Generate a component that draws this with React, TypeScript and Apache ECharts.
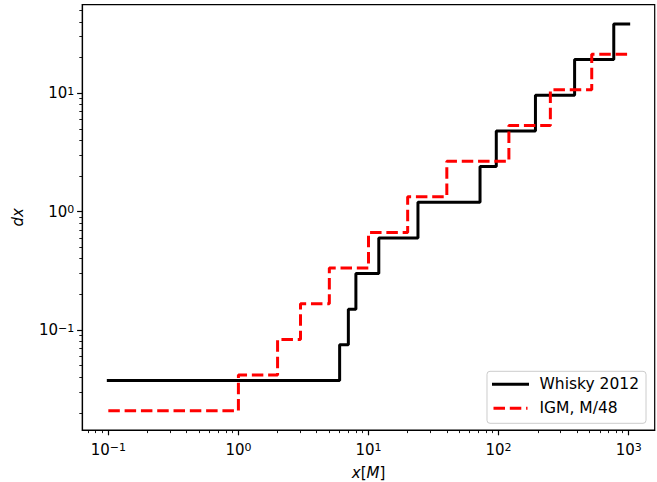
import React, { useEffect, useRef } from "react";
import * as echarts from "echarts";

// Whisky 2012 step series: breakpoints (x) and level after each breakpoint (dx)
const whiskyX = [0.1, 6, 7, 8, 12, 24, 72, 96, 192, 384, 768, 1000];
const whiskyY = [0.0375, 0.075, 0.15, 0.3, 0.6, 1.2, 2.4, 4.8, 9.6, 19.2, 38.4, 38.4];

// IGM, M/48 step series
const igmX = [0.1, 1, 2, 3, 5, 10, 20, 40, 120, 250, 520, 1000];
const igmY = [0.0208, 0.0417, 0.0833, 0.1667, 0.3333, 0.6667, 1.3333, 2.6667, 5.3333, 10.667, 21.333, 21.333];

// Axis ticks
const xMajorTicks = [0.1, 1, 10, 100, 1000];
const xMinorTicks = [
  0.07, 0.08, 0.09,
  0.2, 0.3, 0.4, 0.5, 0.6, 0.7, 0.8, 0.9,
  2, 3, 4, 5, 6, 7, 8, 9,
  20, 30, 40, 50, 60, 70, 80, 90,
  200, 300, 400, 500, 600, 700, 800, 900,
];
const yMajorTicks = [0.1, 1, 10];
const yMinorTicks = [
  0.02, 0.03, 0.04, 0.05, 0.06, 0.07, 0.08, 0.09,
  0.2, 0.3, 0.4, 0.5, 0.6, 0.7, 0.8, 0.9,
  2, 3, 4, 5, 6, 7, 8, 9,
  20, 30, 40, 50,
];

// Axis limits (log space with 5% margins)
const xMin = 0.0630957;
const xMax = 1584.89;
const yMin = 0.014296;
const yMax = 55.94;

const FONT = "DejaVu Sans";
const FS = 15;

const powLabel = (v: number) => {
  const e = Math.round(Math.log10(v));
  const s = e < 0 ? "\u2212" + -e : String(e);
  return "{b|10}{s|" + s + "}";
};

const labelRich = {
  b: { fontSize: FS, fontFamily: FONT, color: "#000", lineHeight: 15, verticalAlign: "bottom", padding: [3.5, 0, 0, 0] },
  s: { fontSize: 11, fontFamily: FONT, color: "#000", lineHeight: 11, verticalAlign: "top" },
};

export default function App() {
  const ref = useRef<HTMLDivElement>(null);

  useEffect(() => {
    if (!ref.current) return;
    const chart = echarts.init(ref.current, null, { renderer: "svg" });

    const axisLineStyle = { color: "#000", width: 1.2 };
    const tickStyle = { color: "#000", width: 1.2 };

    const option: any = {
      animation: false,
      backgroundColor: "#fff",
      grid: {
        left: 82.3,
        right: 2.3,
        top: 4.6,
        bottom: 51.9,
        containLabel: false,
        outerBoundsMode: "none",
        show: true,
        borderColor: "#000",
        borderWidth: 1.2,
        backgroundColor: "transparent",
      },
      legend: {
        orient: "vertical",
        right: 11,
        bottom: 58.7,
        backgroundColor: "rgba(255,255,255,0.8)",
        borderColor: "#cccccc",
        borderWidth: 1,
        borderRadius: 3,
        padding: [5, 7, 7, 5],
        itemWidth: 34,
        itemHeight: 14,
        itemGap: 8,
        itemStyle: { opacity: 0 },
        lineStyle: { width: 3 },
        textStyle: { fontFamily: FONT, fontSize: 15.5, color: "#000", padding: [0, 0, 0, 7] },
        data: ["Whisky 2012", "IGM, M/48"],
      },
      xAxis: [
        {
          type: "log",
          logBase: 10,
          min: xMin,
          max: xMax,
          position: "bottom",
          axisLine: { show: true, onZero: false, lineStyle: axisLineStyle },
          axisTick: { show: true, inside: false, length: 5.2, lineStyle: tickStyle, customValues: xMajorTicks },
          axisLabel: { show: true, margin: 12, customValues: xMajorTicks, formatter: powLabel, rich: labelRich },
          splitLine: { show: false },
          minorTick: { show: false },
          name: "{i|x}{n|[}{i|M}{n|]}",
          nameLocation: "middle",
          nameGap: 37,
          nameTextStyle: {
            lineHeight: 12,
            rich: {
              i: { fontFamily: FONT, fontStyle: "italic", fontSize: FS, color: "#000", lineHeight: 12 },
              n: { fontFamily: FONT, fontSize: FS, color: "#000", lineHeight: 12 },
            },
          },
        },
        {
          type: "log",
          logBase: 10,
          min: xMin,
          max: xMax,
          position: "bottom",
          offset: 0,
          axisLine: { show: false, onZero: false },
          axisTick: { show: true, inside: false, length: 3, lineStyle: { color: "#000", width: 0.9 }, customValues: xMinorTicks },
          axisLabel: { show: false },
          splitLine: { show: false },
        },
      ],
      yAxis: [
        {
          type: "log",
          logBase: 10,
          min: yMin,
          max: yMax,
          position: "left",
          axisLine: { show: true, onZero: false, lineStyle: axisLineStyle },
          axisTick: { show: true, inside: false, length: 5.2, lineStyle: tickStyle, customValues: yMajorTicks },
          axisLabel: { show: true, margin: 8, customValues: yMajorTicks, formatter: powLabel, rich: labelRich },
          splitLine: { show: false },
          name: "{i|dx}",
          nameLocation: "middle",
          nameGap: 57,
          nameRotate: 90,
          nameTextStyle: {
            rich: {
              i: { fontFamily: FONT, fontStyle: "italic", fontSize: FS, color: "#000" },
            },
          },
        },
        {
          type: "log",
          logBase: 10,
          min: yMin,
          max: yMax,
          position: "left",
          offset: 0,
          axisLine: { show: false, onZero: false },
          axisTick: { show: true, inside: false, length: 3, lineStyle: { color: "#000", width: 0.9 }, customValues: yMinorTicks },
          axisLabel: { show: false },
          splitLine: { show: false },
        },
      ],
      series: [
        {
          type: "line",
          name: "Whisky 2012",
          xAxisIndex: 0,
          yAxisIndex: 0,
          step: "end",
          symbol: "none",
          data: whiskyX.map((x, i) => [x, whiskyY[i]]),
          lineStyle: { color: "#000", width: 3, cap: "square" },
          itemStyle: { color: "#000" },
        },
        {
          type: "line",
          name: "IGM, M/48",
          xAxisIndex: 0,
          yAxisIndex: 0,
          step: "end",
          symbol: "none",
          data: igmX.map((x, i) => [x, igmY[i]]),
          lineStyle: { color: "#ff0000", width: 3, type: [11.5, 4.8] },
          itemStyle: { color: "#ff0000" },
        },
      ],
    };

    chart.setOption(option);
    return () => chart.dispose();
  }, []);

  return <div ref={ref} style={{ width: 657, height: 482, position: "absolute", left: 0, top: 0 }} />;
}
